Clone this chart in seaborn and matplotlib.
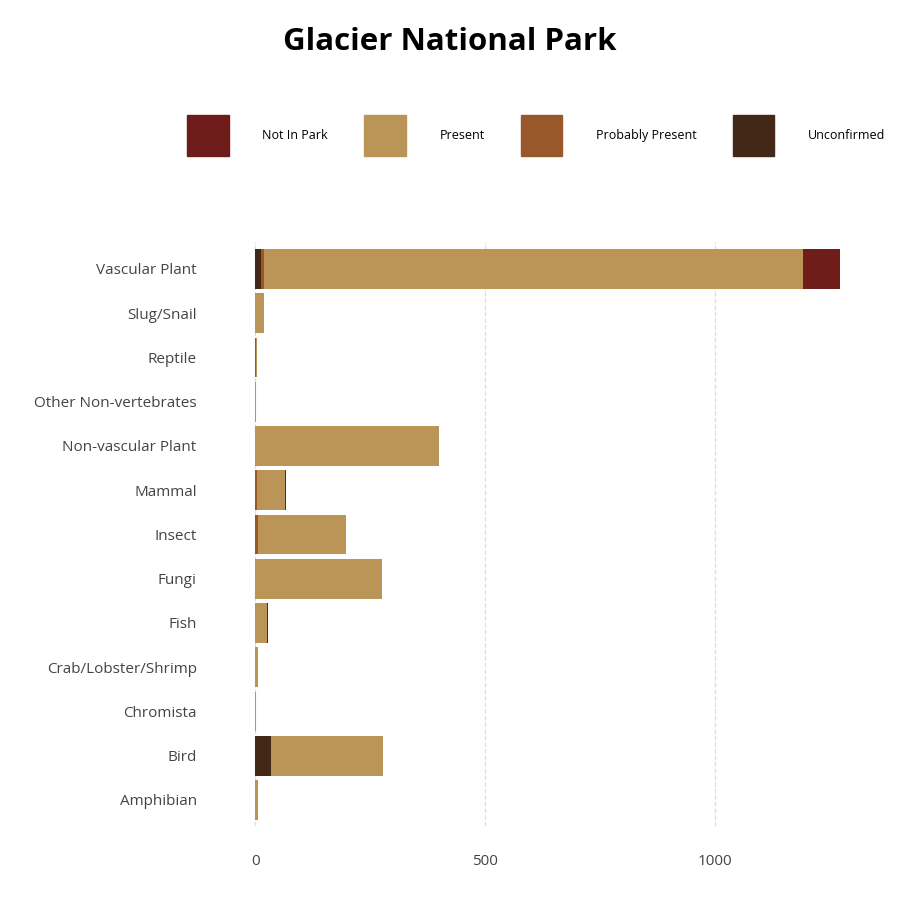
import pandas as pd
import numpy as np
import matplotlib.pyplot as plt
import seaborn as sns

# categories listed bottom -> top
categories = ['Amphibian', 'Bird', 'Chromista', 'Crab/Lobster/Shrimp', 'Fish', 'Fungi',
              'Insect', 'Mammal', 'Non-vascular Plant', 'Other Non-vertebrates',
              'Reptile', 'Slug/Snail', 'Vascular Plant']

unconfirmed      = [0, 35, 0, 0, 0, 0, 0, 0, 0, 0, 0, 0, 13]
probably_present = [0, 0, 0, 0, 0, 0, 6, 4, 0, 0, 2, 0, 6]
present          = [7, 243, 1, 7, 26, 276, 192, 61, 400, 1, 2, 20, 1172]
not_in_park      = [0, 0, 0, 0, 2, 0, 0, 2, 0, 0, 0, 0, 81]

stack_order = ['Unconfirmed', 'Probably Present', 'Present', 'Not In Park']
legend_order = ['Not In Park', 'Present', 'Probably Present', 'Unconfirmed']
colors = {'Not In Park': '#6F1D1B', 'Present': '#BB9457',
          'Probably Present': '#99582A', 'Unconfirmed': '#432818'}

df = pd.DataFrame({'Unconfirmed': unconfirmed,
                   'Probably Present': probably_present,
                   'Present': present,
                   'Not In Park': not_in_park}, index=categories)

sns.set_theme(style='white')
plt.rcParams['font.family'] = ['Open Sans', 'DejaVu Sans']

fig = plt.figure(figsize=(9, 9), dpi=100)
ax = fig.add_axes([0.251, 0.0817, 0.715, 0.649])

df[stack_order].plot(kind='barh', stacked=True, ax=ax, width=0.9,
                     color=[colors[c] for c in stack_order], linewidth=0, legend=False)

total = df.sum(axis=1).max()
ax.set_xlim(-0.05 * total, 1.05 * total)
ax.set_ylim(-0.6, len(categories) - 0.4)
ax.set_xticks([0, 500, 1000])
ax.grid(axis='x', linestyle='--', color='#dddddd', linewidth=0.9)
ax.set_axisbelow(True)
for s in ax.spines.values():
    s.set_visible(False)
ax.tick_params(axis='both', length=0, labelsize=11, colors='#444444')
ax.tick_params(axis='y', pad=21)
ax.tick_params(axis='x', pad=20)
ax.set_ylabel('')
ax.set_xlabel('')

fig.suptitle('Glacier National Park', fontsize=22.5, fontweight='bold',
             color='black', y=0.953, va='center')

handles = [plt.Rectangle((0, 0), 1, 1, color=colors[c]) for c in legend_order]
leg = fig.legend(handles, legend_order, loc='center', bbox_to_anchor=(0.596, 0.849),
                 ncol=4, frameon=False, fontsize=9, handlelength=3.3, handleheight=4.67,
                 handletextpad=2.7, columnspacing=2.9)
for t in leg.get_texts():
    t.set_color('black')

plt.savefig('out.png', dpi=100)
